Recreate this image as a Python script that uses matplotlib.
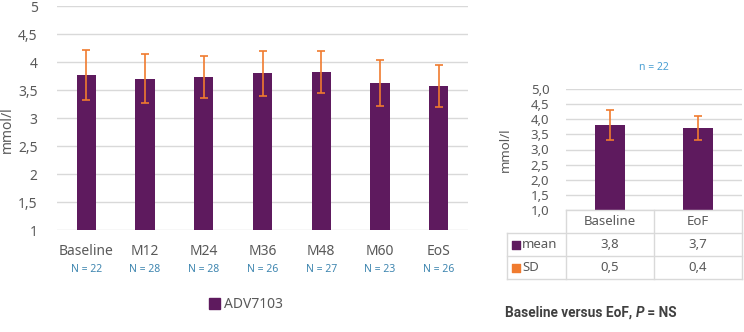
import matplotlib.pyplot as plt
from matplotlib.patches import Patch
from matplotlib.transforms import blended_transform_factory

plt.rcParams['font.family'] = ['Noto Sans', 'DejaVu Sans']

# left panel: ADV7103 over time
visits = ["Baseline", "M12", "M24", "M36", "M48", "M60", "EoS"]
n_per_visit = [22, 28, 28, 26, 27, 23, 26]
mean_visit = [3.77, 3.70, 3.73, 3.80, 3.82, 3.63, 3.57]
sd_visit = [0.45, 0.44, 0.375, 0.40, 0.38, 0.41, 0.375]
left_ticks = [1, 1.5, 2, 2.5, 3, 3.5, 4, 4.5, 5]

# right panel: baseline vs end of follow-up
paired = ["Baseline", "EoF"]
paired_mean = [3.8, 3.7]
paired_sd = [0.5, 0.4]
paired_n = 22
right_ticks = [1.0, 1.5, 2.0, 2.5, 3.0, 3.5, 4.0, 4.5, 5.0]

PURPLE = "#5e1a5e"
ORANGE = "#f07b2f"
GRID = "#d9d9d9"
TXT = "#595959"
BLUE = "#3f86b0"

W, H = 744, 332
fig = plt.figure(figsize=(W / 100, H / 100), dpi=100)


def fx(px):
    return px / W


def fy(py):
    return 1 - py / H


def comma(v, fmt):
    return (fmt % v).replace(".", ",")


# ---- left chart
ax1 = fig.add_axes([fx(57), fy(230), fx(468 - 57), 224 / H])
x = range(len(visits))
ax1.bar(x, mean_visit, width=0.33, color=PURPLE, zorder=2)
ax1.errorbar(x, mean_visit, yerr=sd_visit, fmt="none", ecolor=ORANGE,
             elinewidth=1.2, capsize=3, capthick=1.2, zorder=3)
ax1.set_xlim(-0.5, len(visits) - 0.5)
ax1.set_ylim(1, 5)
ax1.set_yticks(left_ticks)
ax1.set_yticklabels([("%g" % t).replace(".", ",") for t in left_ticks])
ax1.yaxis.grid(True, color=GRID, linewidth=1, zorder=0)
ax1.set_axisbelow(True)
for s in ax1.spines.values():
    s.set_visible(False)
ax1.tick_params(length=0, colors=TXT, labelsize=10)
ax1.tick_params(axis="y", pad=14)
ax1.set_xticks(list(x))
ax1.set_xticklabels(visits, fontsize=10, color=TXT)
ax1.tick_params(axis="x", pad=10)
ax1.set_ylabel("mmol/l", color=TXT, fontsize=10)
ax1.yaxis.set_label_coords(-(57 - 15) / 411, 0.45)
tr = blended_transform_factory(ax1.transData, ax1.transAxes)
for i, n in enumerate(n_per_visit):
    ax1.text(i, -39 / 224, "N = %d" % n, transform=tr, ha="center",
             va="center", fontsize=7.5, color=BLUE)
fig.legend(handles=[Patch(color=PURPLE, label="ADV7103")],
           loc="center", bbox_to_anchor=(fx(246), fy(305)), frameon=False,
           fontsize=10, handlelength=0.8, handleheight=0.8, handletextpad=0.3,
           labelcolor=TXT)

# ---- right chart
ax2 = fig.add_axes([fx(566), fy(210), fx(742 - 566), 121 / H])
xr = range(len(paired))
ax2.bar(xr, paired_mean, width=0.33, color=PURPLE, zorder=2)
ax2.errorbar(xr, paired_mean, yerr=paired_sd, fmt="none", ecolor=ORANGE,
             elinewidth=1.2, capsize=3, capthick=1.2, zorder=3)
ax2.set_xlim(-0.5, 1.5)
ax2.set_ylim(1, 5)
ax2.set_yticks(right_ticks)
ax2.set_yticklabels([comma(t, "%.1f") for t in right_ticks])
ax2.yaxis.grid(True, color=GRID, linewidth=1, zorder=0)
ax2.set_axisbelow(True)
for s in ax2.spines.values():
    s.set_visible(False)
ax2.set_xticks([])
ax2.tick_params(length=0, colors=TXT, labelsize=9.5, pad=12)
ax2.set_ylabel("mmol/l", color=TXT, fontsize=9.5)
ax2.yaxis.set_label_coords(-(566 - 512) / 176, 0.5)
ax2.text(0.5, 1.18, "n = %d" % paired_n, transform=ax2.transAxes,
         ha="center", va="center", fontsize=7.5, color="#4a9fd3")

# data table below the right chart
tr2 = blended_transform_factory(ax2.transData, ax2.transAxes)
rh = 23 / 121
left_edge = -0.5 - (566 - 507) / 88
lkw = dict(color=GRID, linewidth=1, transform=tr2, clip_on=False)
ax2.plot([-0.5, 1.5], [0, 0], **lkw)
for k in (1, 2, 3):
    ax2.plot([left_edge, 1.5], [-k * rh, -k * rh], **lkw)
ax2.plot([left_edge, left_edge], [-rh, -3 * rh], **lkw)
for xv in (-0.5, 0.5, 1.5):
    ax2.plot([xv, xv], [0, -3 * rh], **lkw)
for i, lab in enumerate(paired):
    ax2.text(i, -0.5 * rh, lab, transform=tr2, ha="center", va="center",
             fontsize=9.5, color=TXT)
    ax2.text(i, -1.5 * rh, comma(paired_mean[i], "%.1f"), transform=tr2,
             ha="center", va="center", fontsize=9.5, color=TXT)
    ax2.text(i, -2.5 * rh, comma(paired_sd[i], "%.1f"), transform=tr2,
             ha="center", va="center", fontsize=9.5, color=TXT)
for k, (lab, col) in enumerate([("mean", PURPLE), ("SD", ORANGE)]):
    yy = -(1.5 + k) * rh
    ax2.scatter([left_edge + 0.1], [yy], marker="s", s=40, color=col,
                transform=tr2, clip_on=False, zorder=4)
    ax2.text(left_edge + 0.17, yy, lab, transform=tr2, ha="left",
             va="center", fontsize=9.5, color=TXT)

# footnote, built from pieces so P can be bold italic
fig.canvas.draw()
rend = fig.canvas.get_renderer()
pieces = [("Baseline versus EoF, ", "normal"), ("P", "italic"), (" = NS", "normal")]
xpos = fx(505)
for txt, style in pieces:
    t = fig.text(xpos, fy(313), txt, fontsize=9.8, fontweight="bold",
                 fontstyle=style, family="Roboto", color="#404040",
                 va="center")
    bb = t.get_window_extent(renderer=rend)
    xpos += bb.width / W

fig.savefig("out.png", dpi=100)
